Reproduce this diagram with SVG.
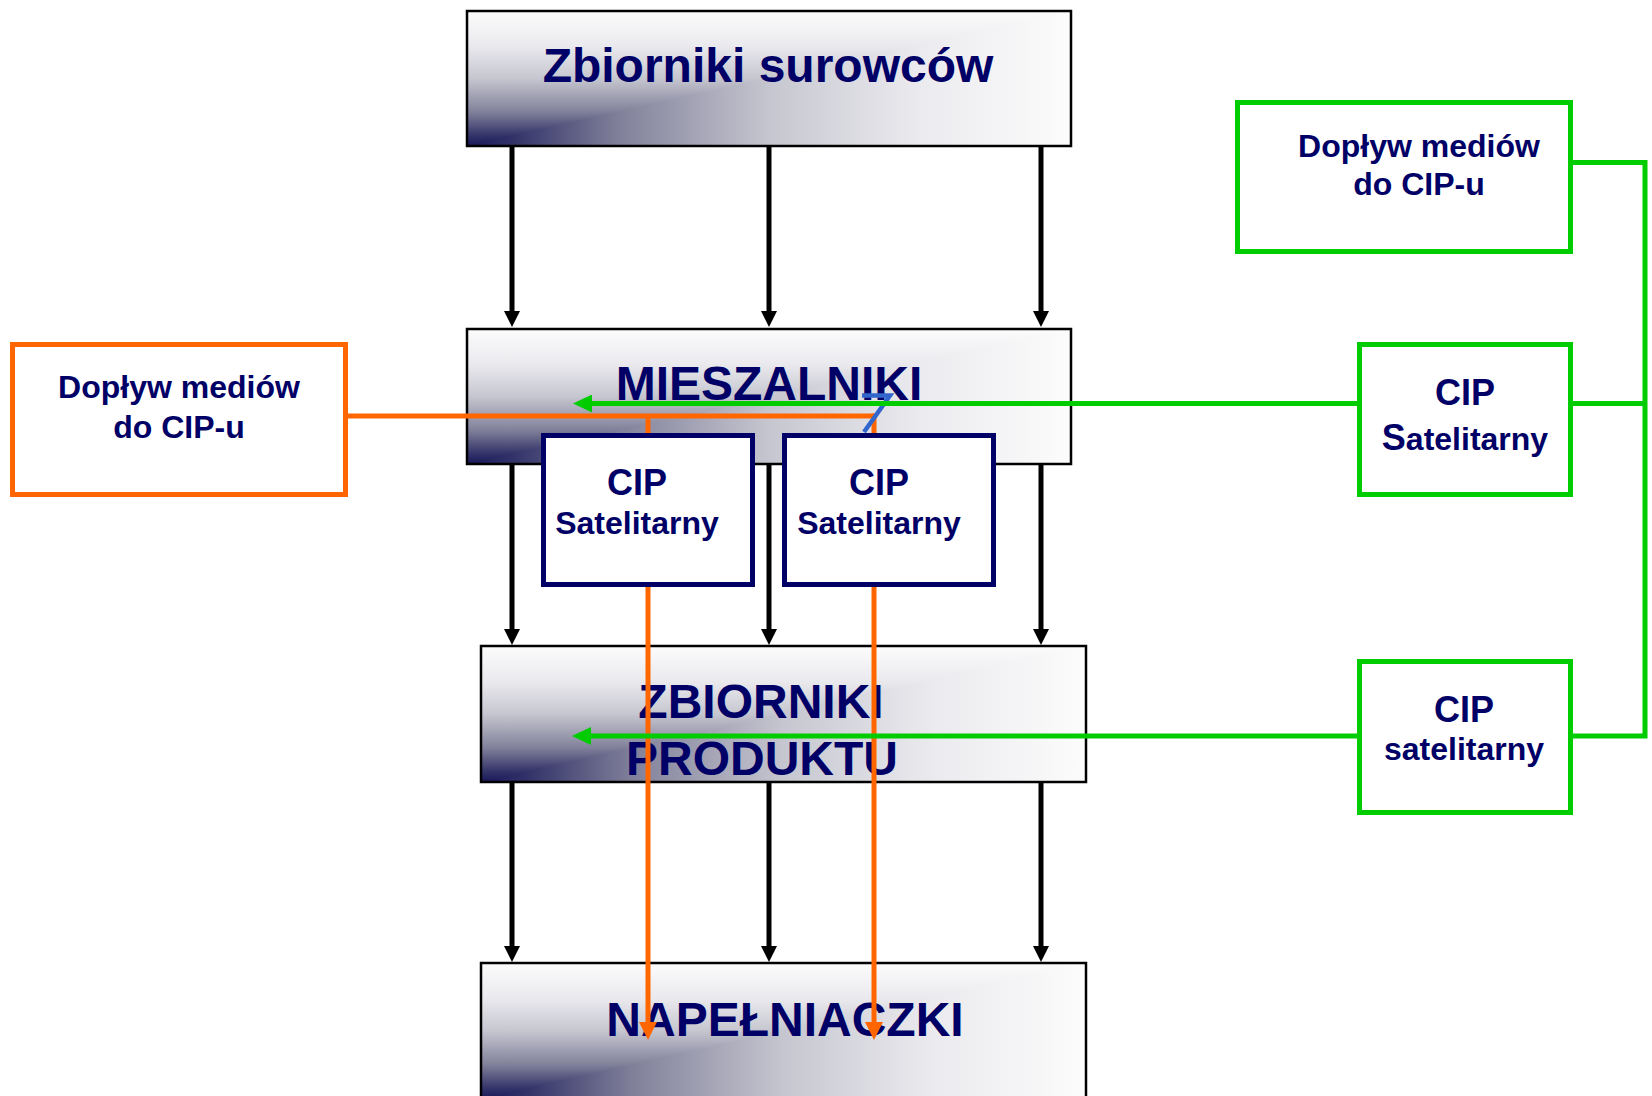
<svg xmlns="http://www.w3.org/2000/svg" width="1652" height="1096" viewBox="0 0 1652 1096">
  <style>
    .frame { stroke: #000000; stroke-width: 2.5; fill: none; }
    .shadeV { fill: url(#shadeUp); }
    .shadeH { fill: url(#shadeRight); mix-blend-mode: lighten; }
    .stageFill { isolation: isolate; }
    .title { font-family: "Liberation Sans", Arial, sans-serif; font-weight: bold; font-size: 48px; fill: #000066; text-anchor: middle; }
    .label { font-family: "Liberation Sans", Arial, sans-serif; font-weight: bold; font-size: 32px; fill: #000066; text-anchor: middle; }
    .cip { font-family: "Liberation Sans", Arial, sans-serif; font-weight: bold; font-size: 36px; fill: #000066; text-anchor: middle; }
    .sat { stroke: #000066; stroke-width: 5; fill: #ffffff; }
    .feedOrange { stroke: #ff6600; stroke-width: 5; fill: #ffffff; }
    .feedGreen { stroke: #00cc00; stroke-width: 5; fill: #ffffff; }
    .flow { stroke: #000000; stroke-width: 5; fill: none; marker-end: url(#headBlack); }
    .orange { stroke: #ff6600; stroke-width: 5; fill: none; }
    .green { stroke: #00cc00; stroke-width: 5; fill: none; }
    .blue { stroke: #3366cc; stroke-width: 4.5; fill: none; }
  </style>
  <defs>
    <!-- corner shading: the lighter of a bottom-up and a left-right ramp -->
    <linearGradient id="shadeUp" x1="0" y1="1" x2="0" y2="0">
      <stop offset="0" stop-color="#18185a"/>
      <stop offset="0.08" stop-color="#34346a"/>
      <stop offset="0.25" stop-color="#80809a"/>
      <stop offset="0.5" stop-color="#c6c6d0"/>
      <stop offset="0.75" stop-color="#ebebef"/>
      <stop offset="1" stop-color="#fcfcfc"/>
    </linearGradient>
    <linearGradient id="shadeRight" x1="0" y1="0" x2="1" y2="0">
      <stop offset="0" stop-color="#18185a"/>
      <stop offset="0.08" stop-color="#34346a"/>
      <stop offset="0.25" stop-color="#80809a"/>
      <stop offset="0.5" stop-color="#c6c6d0"/>
      <stop offset="0.75" stop-color="#ebebef"/>
      <stop offset="1" stop-color="#fcfcfc"/>
    </linearGradient>
    <marker id="headBlack" markerUnits="userSpaceOnUse" markerWidth="16" markerHeight="16" refX="0" refY="8" orient="auto">
      <path d="M0,0 L16,8 L0,16 z" fill="#000000"/>
    </marker>
    <marker id="headOrange" markerUnits="userSpaceOnUse" markerWidth="18" markerHeight="18" refX="0" refY="9" orient="auto">
      <path d="M0,0 L18,9 L0,18 z" fill="#ff6600"/>
    </marker>
    <marker id="headGreen" markerUnits="userSpaceOnUse" markerWidth="19" markerHeight="18" refX="0" refY="9" orient="auto">
      <path d="M0,0 L19,9 L0,18 z" fill="#00cc00"/>
    </marker>
  </defs>

  <rect width="1652" height="1096" fill="#ffffff"/>

  <!-- process stages -->
  <g id="zbiorniki-surowcow">
    <g class="stageFill">
      <rect class="shadeV" x="467" y="11" width="604" height="135"/>
      <rect class="shadeH" x="467" y="11" width="604" height="135"/>
    </g>
    <rect class="frame" x="467" y="11" width="604" height="135"/>
    <text class="title" x="768" y="82">Zbiorniki surowców</text>
  </g>
  <g id="mieszalniki">
    <g class="stageFill">
      <rect class="shadeV" x="467" y="329" width="604" height="135"/>
      <rect class="shadeH" x="467" y="329" width="604" height="135"/>
    </g>
    <rect class="frame" x="467" y="329" width="604" height="135"/>
    <text class="title" x="769" y="400">MIESZALNIKI</text>
  </g>
  <g id="zbiorniki-produktu">
    <g class="stageFill">
      <rect class="shadeV" x="481" y="646" width="605" height="136"/>
      <rect class="shadeH" x="481" y="646" width="605" height="136"/>
    </g>
    <rect class="frame" x="481" y="646" width="605" height="136"/>
    <text class="title" x="761" y="718">ZBIORNIKI</text>
    <text class="title" x="762" y="775">PRODUKTU</text>
  </g>
  <g id="napelniaczki">
    <g class="stageFill">
      <rect class="shadeV" x="481" y="963" width="605" height="136"/>
      <rect class="shadeH" x="481" y="963" width="605" height="136"/>
    </g>
    <rect class="frame" x="481" y="963" width="605" height="136"/>
    <text class="title" x="785" y="1036">NAPEŁNIACZKI</text>
  </g>

  <!-- connectors -->
  <g id="connectors">
    <!-- product flow -->
    <line class="flow" x1="512" y1="146" x2="512" y2="311"/>
    <line class="flow" x1="769" y1="146" x2="769" y2="311"/>
    <line class="flow" x1="1041" y1="146" x2="1041" y2="311"/>
    <line class="flow" x1="512" y1="464" x2="512" y2="629"/>
    <line class="flow" x1="769" y1="464" x2="769" y2="629"/>
    <line class="flow" x1="1041" y1="464" x2="1041" y2="629"/>
    <line class="flow" x1="512" y1="782" x2="512" y2="946"/>
    <line class="flow" x1="769" y1="782" x2="769" y2="946"/>
    <line class="flow" x1="1041" y1="782" x2="1041" y2="946"/>

    <!-- local CIP supply -->
    <path class="orange" d="M347,416 H874"/>
    <path class="orange" d="M648,416 V1022" marker-end="url(#headOrange)"/>
    <path class="orange" d="M874,413.5 V1022" marker-end="url(#headOrange)"/>

    <path class="blue" d="M862,395.5 H890 L864,432"/>

    <!-- central CIP supply -->
    <path class="green" d="M1573,162.5 H1645 V736 H1573"/>
    <path class="green" d="M1573,403.5 H1645"/>
    <path class="green" d="M1357,403.5 H592" marker-end="url(#headGreen)"/>
    <path class="green" d="M1357,736 H591" marker-end="url(#headGreen)"/>
  </g>

  <!-- satellite CIP units beside the mixers -->
  <g id="cip-satelitarny-1">
    <rect class="sat" x="543.5" y="435.5" width="209" height="149"/>
    <text class="cip" x="637" y="495">CIP</text>
    <text class="label" x="637" y="534">Satelitarny</text>
  </g>
  <g id="cip-satelitarny-2">
    <rect class="sat" x="784.5" y="435.5" width="209" height="149"/>
    <text class="cip" x="879" y="495">CIP</text>
    <text class="label" x="879" y="534">Satelitarny</text>
  </g>

  <!-- media supply, local -->
  <g id="doplyw-lokalny">
    <rect class="feedOrange" x="12.5" y="344.5" width="333" height="150"/>
    <text class="label" x="179" y="398">Dopływ mediów</text>
    <text class="label" x="179" y="438">do CIP-u</text>
  </g>

  <!-- media supply, central -->
  <g id="doplyw-centralny">
    <rect class="feedGreen" x="1237.5" y="102.5" width="333" height="149"/>
    <text class="label" x="1419" y="157">Dopływ mediów</text>
    <text class="label" x="1419" y="195">do CIP-u</text>
  </g>
  <g id="cip-satelitarny-3">
    <rect class="feedGreen" x="1359.5" y="344.5" width="211" height="150"/>
    <text class="cip" x="1465" y="405">CIP</text>
    <text class="label" x="1465" y="450" font-size="31"><tspan font-size="36">S</tspan>atelitarny</text>
  </g>
  <g id="cip-satelitarny-4">
    <rect class="feedGreen" x="1359.5" y="661.5" width="211" height="151"/>
    <text class="cip" x="1464" y="722">CIP</text>
    <text class="label" x="1464" y="760" font-size="31">satelitarny</text>
  </g>
</svg>
